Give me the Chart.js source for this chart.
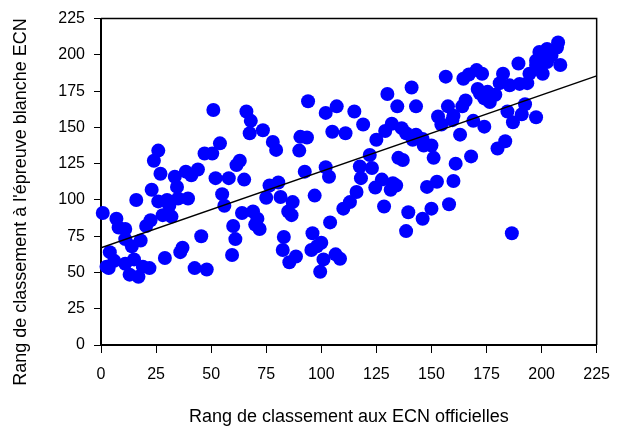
<!DOCTYPE html>
<html>
<head>
<meta charset="utf-8">
<script src="https://cdn.jsdelivr.net/npm/chart.js@4.4.1/dist/chart.umd.min.js"></script>
<style>
  html, body { margin: 0; padding: 0; background: #fff; }
  #wrap { width: 622px; height: 428px; }
</style>
</head>
<body>
<div id="wrap"><canvas id="myChart" width="622" height="428"></canvas></div>
<script>
// Rank in the official ECN (x) and rank in the mock ECN exam (y)
const ecnRank = [
  0.8, 7, 8, 11, 11, 14, 18, 4, 6, 2.5, 3.5, 11, 15, 13, 17, 19, 22, 16, 23, 26,
  30, 31, 28, 32, 35, 39.5, 34.5, 27, 33.5, 38.5, 41, 44, 22.5, 20.5, 29, 36, 37, 45.5, 42.5, 48,
  52, 58, 65, 55, 56, 64, 69, 71, 70, 72, 60, 61, 59.5, 76.5, 75, 26, 24, 54, 47, 50.5,
  63, 61.5, 51, 66, 68, 67.5, 73.5, 78, 79.5, 94, 90.5, 93.5, 90, 102, 107, 115, 119, 105, 111, 130,
  141, 134.5, 143, 132, 129, 136.5, 125, 138.5, 143, 141.5, 146, 146.5, 150, 153, 151, 122, 135, 137, 117.5, 123,
  92.5, 102, 103.5, 118, 127.5, 132.5, 80.5, 152.5, 81.5, 87, 85, 86.5, 97, 83, 82.5, 85.5, 88.5, 96, 95.5, 100,
  98, 101, 99.5, 106.5, 108.5, 104, 110, 113, 116, 124.5, 131.5, 134, 128.5, 139.5, 138.5, 146, 150, 148, 156.5, 164.5,
  167, 170.5, 173, 182.5, 189.5, 181, 185.5, 190, 193.5, 194.5, 197.5, 199, 202.5, 204.5, 207.5, 207, 200.5, 208.5, 197.5, 202.5,
  171, 172, 175.5, 179, 174, 176.5, 165.5, 164, 157.5, 154.5, 160, 159.5, 169, 174, 184.5, 192.5, 191, 187, 197.5, 163,
  183.5, 180, 161, 168, 160, 158, 186.5
];
const blancheRank = [
  91, 87, 81, 80, 73, 68, 72, 64, 58, 54, 53, 56, 59, 48.5, 47, 54, 53, 100, 107, 99,
  100, 96, 89.5, 88.5, 101, 101, 109, 118, 116, 119.5, 117, 121, 86, 82, 60, 64, 67, 75, 53, 52,
  115, 115, 114, 104, 96, 91, 92, 87, 83, 80, 82, 73, 62, 110, 101.5, 134, 127, 139, 132, 132,
  127, 124, 162, 161, 154.5, 146, 148, 140, 134.5, 168, 143.5, 143, 134, 160, 164.5, 161, 152, 147, 146, 173,
  177.5, 164.5, 164.5, 152.5, 147.5, 149.5, 141.5, 146, 145, 141.5, 142, 137.5, 137.5, 157.5, 129, 131, 129, 127.5, 123, 122,
  119.5, 122.5, 116, 115, 114, 111.5, 112, 112.5, 102, 98.5, 92, 89.5, 103, 74.5, 65.5, 57, 61, 77, 65.5, 70.5,
  68, 59, 50.5, 62.5, 59.5, 84.5, 94, 98.5, 105.5, 108.5, 107, 110, 95.5, 91.5, 78.5, 87, 94, 109, 185, 183.5,
  186.5, 189.5, 187, 187, 194, 180.5, 179, 180, 180.5, 187, 196, 202, 204, 199.5, 208.5, 205, 187, 193, 193, 195,
  176.5, 173.5, 174.5, 172.5, 170, 167.5, 168.5, 164.5, 164.5, 152, 158, 155, 154.5, 150.5, 161, 166, 159, 153.5, 157, 145,
  140.5, 135.5, 125, 130, 113, 97, 77
];

// Linear trend line drawn on the reference (end points)
const fitX = [0, 225];
const fitY = [67, 185.5];

const xTitle = 'Rang de classement aux ECN officielles';
const yTitle = "Rang de classement à l'épreuve blanche ECN";

const points = ecnRank.map((x, i) => ({ x: x, y: blancheRank[i] }));
const trend = fitX.map((x, i) => ({ x: x, y: fitY[i] }));

const fontFamily = 'Liberation Sans, Arial, sans-serif';
const tickFont = { family: fontFamily, size: 16 };
const titleFont = { family: fontFamily, size: 18 };

// Thin frame on the top and right side of the plot area
const framePlugin = {
    id: 'frame',
    afterDraw(chart) {
        const a = chart.chartArea;
        const c = chart.ctx;
        c.save();
        c.strokeStyle = '#000';
        c.lineWidth = 1.5;
        c.beginPath();
        c.moveTo(a.left, a.top);
        c.lineTo(a.right, a.top);
        c.lineTo(a.right, a.bottom);
        c.stroke();
        c.restore();
    }
};

// Y axis title sits lower than the plot centre in the reference, so draw it here
const yTitlePlugin = {
    id: 'yTitle',
    afterDraw(chart) {
        const c = chart.ctx;
        c.save();
        c.translate(21.5, 202);
        c.rotate(-Math.PI / 2);
        c.fillStyle = '#000';
        c.font = titleFont.size + 'px ' + fontFamily;
        c.textAlign = 'center';
        c.textBaseline = 'middle';
        c.fillText(yTitle, 0, 0);
        c.restore();
    }
};

const ctx = document.getElementById('myChart').getContext('2d');

const myChart = new Chart(ctx, {
    type: 'scatter',
    data: {
        datasets: [{
            label: 'Trend',
            type: 'line',
            data: trend,
            borderColor: '#000',
            borderWidth: 1.5,
            pointRadius: 0,
            fill: false,
            order: 0
        }, {
            label: 'Étudiants',
            data: points,
            backgroundColor: '#0000ff',
            borderWidth: 0,
            pointRadius: 7,
            pointHoverRadius: 7,
            clip: false,
            order: 1
        }]
    },
    options: {
        responsive: false,
        animation: false,
        events: [],
        layout: { padding: { top: 12, right: 25, left: 0, bottom: 0 } },
        plugins: {
            legend: { display: false },
            tooltip: { enabled: false }
        },
        scales: {
            x: {
                type: 'linear',
                min: 0,
                max: 225,
                afterFit: (s) => { s.height = 83; },
                ticks: { stepSize: 25, color: '#000', font: tickFont, padding: 12, maxRotation: 0 },
                grid: { drawOnChartArea: false, drawTicks: true, tickLength: 8, color: '#000', lineWidth: 1 },
                border: { display: true, color: '#000', width: 2 },
                title: { display: true, text: xTitle, color: '#000', font: titleFont, padding: { top: 5, bottom: 0 } }
            },
            y: {
                type: 'linear',
                min: 0,
                max: 225,
                afterFit: (s) => { s.width = 101; },
                ticks: { stepSize: 25, color: '#000', font: tickFont, padding: 9 },
                grid: { drawOnChartArea: false, drawTicks: true, tickLength: 7, color: '#000', lineWidth: 1 },
                border: { display: true, color: '#000', width: 2 },
                title: { display: false, text: yTitle }
            }
        }
    },
    plugins: [framePlugin, yTitlePlugin]
});
</script>
</body>
</html>
